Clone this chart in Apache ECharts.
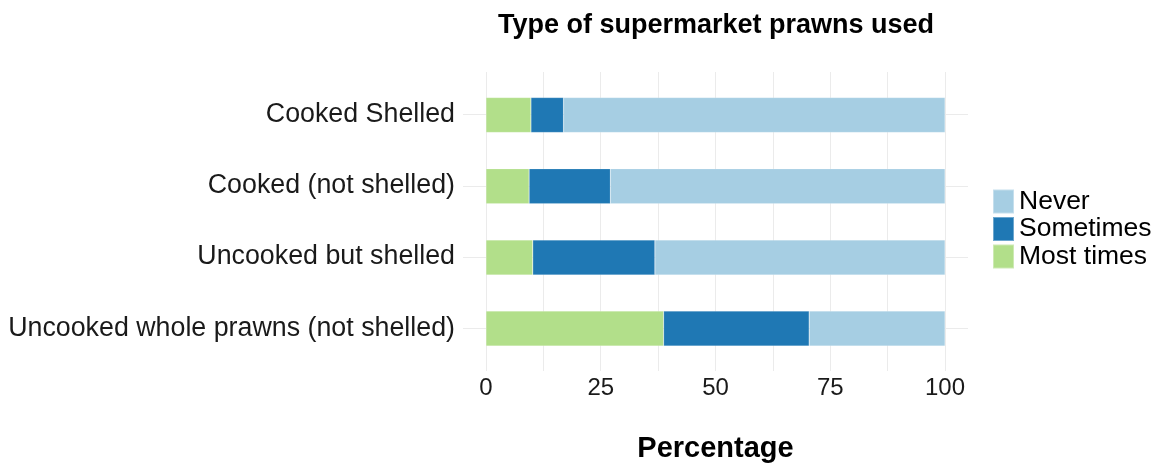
<!DOCTYPE html>
<html>
<head>
<meta charset="utf-8">
<script src="https://cdn.jsdelivr.net/npm/echarts@6/dist/echarts.min.js"></script>
<style>
  html, body { margin: 0; padding: 0; background: #fff; }
  #main { width: 1165px; height: 468px; }
</style>
</head>
<body>
<div id="main"></div>
<script>
// categories top to bottom
const categories = ['Cooked Shelled', 'Cooked (not shelled)', 'Uncooked but shelled', 'Uncooked whole prawns (not shelled)'];
// percentages
const mostTimes = [9.8, 9.4, 10.2, 38.7];
const sometimes = [7.1, 17.7, 26.6, 31.7];
const never = [83.1, 72.9, 63.2, 29.6];
const xTicks = [0, 25, 50, 75, 100];
const xGridLines = [0, 12.5, 25, 37.5, 50, 62.5, 75, 87.5, 100];

const FONT = '"Liberation Sans", Arial, sans-serif';
const myChart = echarts.init(document.getElementById('main'));

const bar = (name, data, color) => ({
  name: name,
  type: 'bar',
  stack: 'all',
  xAxisIndex: 0,
  yAxisIndex: 0,
  data: data,
  barWidth: 35,
  itemStyle: { color: color, borderColor: 'rgba(255,255,255,0.35)', borderWidth: 0.5 },
  emphasis: { disabled: true }
});

myChart.setOption({
  animation: false,
  backgroundColor: '#fff',
  title: {
    text: 'Type of supermarket prawns used',
    left: 711,
    top: 7,
    textAlign: 'center',
    textStyle: { fontFamily: FONT, fontSize: 27, fontWeight: 'bold', color: '#000' }
  },
  legend: {
    data: ['Never', 'Sometimes', 'Most times'],
    orient: 'vertical',
    left: 987,
    top: 183,
    icon: 'rect',
    itemWidth: 21,
    itemHeight: 24,
    itemGap: 0.5,
    selectedMode: false,
    textStyle: { fontFamily: FONT, fontSize: 26.5, lineHeight: 24, color: '#000', padding: [2, 0, 0, 0] }
  },
  grid: [
    // bars
    { left: 463, width: 505, top: 79.4, height: 284.8, containLabel: false },
    // background panel, with ggplot-like expansion
    { left: 463, width: 505, top: 72, height: 299, containLabel: false }
  ],
  xAxis: [
    { gridIndex: 0, type: 'value', min: -5, max: 105, show: false },
    {
      gridIndex: 1, type: 'value', min: -5, max: 105,
      axisLine: { show: false },
      axisTick: { show: false, customValues: xGridLines },
      axisLabel: {
        customValues: xTicks, margin: 5,
        fontFamily: FONT, fontSize: 24, color: '#1a1a1a'
      },
      splitLine: { show: true, lineStyle: { color: '#ebebeb', width: 1 } },
      name: 'Percentage',
      nameLocation: 'middle',
      nameGap: 63,
      nameTextStyle: { fontFamily: FONT, fontSize: 29, fontWeight: 'bold', color: '#000' }
    }
  ],
  yAxis: [
    { gridIndex: 0, type: 'category', data: categories, inverse: true, show: false },
    {
      gridIndex: 1, type: 'value', min: 0.4, max: 4.6, inverse: true,
      axisLine: { show: false },
      axisTick: { show: false, customValues: [1, 2, 3, 4] },
      axisLabel: {
        customValues: [1, 2, 3, 4], margin: 8,
        fontFamily: FONT, fontSize: 26.8, color: '#1a1a1a',
        formatter: v => categories[Math.round(v) - 1]
      },
      splitLine: { show: true, lineStyle: { color: '#ebebeb', width: 1 } }
    }
  ],
  series: [
    bar('Most times', mostTimes, '#B2DF8A'),
    bar('Sometimes', sometimes, '#1F78B4'),
    bar('Never', never, '#A6CEE3')
  ]
});
</script>
</body>
</html>
